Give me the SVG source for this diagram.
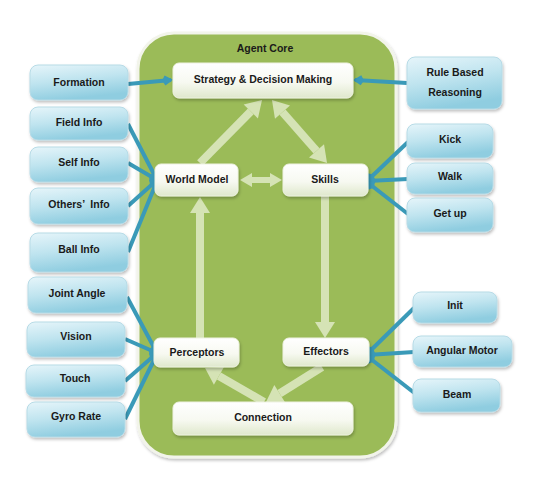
<svg xmlns="http://www.w3.org/2000/svg" width="533" height="479" viewBox="0 0 533 479">
<defs>
<linearGradient id="gBlue" x1="0" y1="0" x2="0.3" y2="1">
<stop offset="0" stop-color="#e6f5fa"/>
<stop offset="0.5" stop-color="#bfe4ef"/>
<stop offset="1" stop-color="#8fcde0"/>
</linearGradient>
<linearGradient id="gWhite" x1="0" y1="0" x2="0" y2="1">
<stop offset="0" stop-color="#ffffff"/>
<stop offset="0.55" stop-color="#f7f9f1"/>
<stop offset="1" stop-color="#dfe8cc"/>
</linearGradient>
<marker id="gh" markerUnits="userSpaceOnUse" markerWidth="24" markerHeight="24" viewBox="-2 -12 22 24" refX="0" refY="0" orient="auto-start-reverse">
<path d="M0,-10 L16,0 L0,10 z" fill="#d5e3b5"/>
</marker>
<marker id="ghs" markerUnits="userSpaceOnUse" markerWidth="18" markerHeight="18" viewBox="-2 -9 16 18" refX="0" refY="0" orient="auto-start-reverse">
<path d="M0,-7 L12,0 L0,7 z" fill="#d5e3b5"/>
</marker>
<marker id="bh" markerUnits="userSpaceOnUse" markerWidth="14" markerHeight="14" viewBox="-4 -7 14 14" refX="6" refY="0" orient="auto">
<path d="M-3,0 L0,-5 L8,0 L0,5 z" fill="#3a9ab8"/>
</marker>
<filter id="sh" x="-20%" y="-20%" width="140%" height="150%">
<feDropShadow dx="1" dy="2" stdDeviation="1.5" flood-color="#000" flood-opacity="0.25"/>
</filter>
</defs>
<style>
.bb{fill:url(#gBlue);stroke:#b7dbe6;stroke-width:1;filter:url(#sh)}
.wb{fill:url(#gWhite);stroke:#eef2e2;stroke-width:1;filter:url(#sh)}
text{font-family:"Liberation Sans",Arial,sans-serif;font-weight:bold;font-size:10.5px;fill:#1a1a1a;text-anchor:middle;dominant-baseline:middle;white-space:pre}
.ga{stroke:#d5e3b5;stroke-width:8;fill:none;marker-end:url(#gh)}
.bl{stroke:#3a9ab8;stroke-width:4;fill:none;marker-end:url(#bh)}
</style>
<rect width="533" height="479" fill="#ffffff"/>
<g id="agent-core">
<rect x="138" y="33" width="258" height="424" rx="36" fill="#9bbb59" stroke="#f2f4ea" stroke-width="3" filter="url(#sh)"/>
<text x="265" y="49">Agent Core</text>
</g>
<g id="connectors">
<line class="ga" x1="200" y1="163" x2="250.8" y2="111.4"/>
<line class="ga" x1="282.5" y1="112.1" x2="316.5" y2="150.9" marker-start="url(#gh)"/>
<line x1="252" y1="180" x2="270" y2="180" stroke="#d5e3b5" stroke-width="6" marker-start="url(#ghs)" marker-end="url(#ghs)"/>
<line class="ga" x1="200" y1="338" x2="200" y2="213"/>
<line class="ga" x1="325" y1="195" x2="325" y2="322"/>
<line class="ga" x1="322" y1="367" x2="279.6" y2="393.5"/>
<line class="ga" x1="264" y1="402" x2="218.9" y2="376"/>
<line class="bl" x1="128" y1="84" x2="171" y2="80"/>
<line class="bl" x1="407" y1="83" x2="355" y2="80"/>
<line class="bl" x1="128" y1="124" x2="157" y2="180"/>
<line class="bl" x1="128" y1="163" x2="157" y2="180"/>
<line class="bl" x1="128" y1="206" x2="157" y2="180"/>
<line class="bl" x1="128" y1="252" x2="157" y2="181"/>
<line class="bl" x1="127" y1="297" x2="157" y2="353"/>
<line class="bl" x1="125" y1="339" x2="157" y2="353"/>
<line class="bl" x1="125" y1="381" x2="157" y2="353"/>
<line class="bl" x1="125" y1="419" x2="157" y2="354"/>
<line class="bl" x1="408" y1="142" x2="367" y2="181"/>
<line class="bl" x1="408" y1="179" x2="367" y2="181"/>
<line class="bl" x1="408" y1="214" x2="367" y2="182"/>
<line class="bl" x1="414" y1="308" x2="367" y2="354"/>
<line class="bl" x1="414" y1="352" x2="367" y2="355"/>
<line class="bl" x1="417" y1="395" x2="367" y2="356"/>
</g>
<g id="strategy"><rect class="wb" x="173" y="63" width="180" height="35" rx="6"/><text x="263" y="80">Strategy &amp; Decision Making</text></g>
<g id="world-model"><rect class="wb" x="155" y="164" width="83" height="32" rx="6"/><text x="197" y="180">World Model</text></g>
<g id="skills"><rect class="wb" x="283" y="164" width="85" height="32" rx="6"/><text x="325" y="180">Skills</text></g>
<g id="perceptors"><rect class="wb" x="154" y="338" width="85" height="29" rx="6"/><text x="197" y="353">Perceptors</text></g>
<g id="effectors"><rect class="wb" x="283" y="338" width="86" height="28" rx="6"/><text x="326" y="352">Effectors</text></g>
<g id="connection"><rect class="wb" x="173" y="402" width="180" height="33" rx="6"/><text x="263" y="418">Connection</text></g>
<g id="formation"><rect class="bb" x="30" y="65" width="98" height="35" rx="8"/><text x="79" y="83">Formation</text></g>
<g id="field-info"><rect class="bb" x="30" y="107" width="98" height="33" rx="8"/><text x="79" y="123">Field Info</text></g>
<g id="self-info"><rect class="bb" x="30" y="147" width="98" height="35" rx="8"/><text x="79" y="163">Self Info</text></g>
<g id="others-info"><rect class="bb" x="30" y="188" width="98" height="36" rx="8"/><text x="79" y="205">Others’  Info</text></g>
<g id="ball-info"><rect class="bb" x="30" y="233" width="98" height="39" rx="8"/><text x="79" y="250">Ball Info</text></g>
<g id="joint-angle"><rect class="bb" x="28" y="277" width="99" height="36" rx="8"/><text x="77" y="294">Joint Angle</text></g>
<g id="vision"><rect class="bb" x="27" y="322" width="98" height="35" rx="8"/><text x="76" y="337">Vision</text></g>
<g id="touch"><rect class="bb" x="26" y="365" width="99" height="32" rx="8"/><text x="75" y="379">Touch</text></g>
<g id="gyro-rate"><rect class="bb" x="27" y="402" width="98" height="35" rx="8"/><text x="76" y="417">Gyro Rate</text></g>
<g id="rule-based"><rect class="bb" x="407" y="57" width="95" height="52" rx="8"/><text x="455" y="73">Rule Based</text><text x="455" y="93">Reasoning</text></g>
<g id="kick"><rect class="bb" x="407" y="124" width="86" height="34" rx="8"/><text x="450" y="140">Kick</text></g>
<g id="walk"><rect class="bb" x="407" y="163" width="86" height="31" rx="8"/><text x="450" y="177">Walk</text></g>
<g id="get-up"><rect class="bb" x="407" y="198" width="86" height="34" rx="8"/><text x="450" y="214">Get up</text></g>
<g id="init"><rect class="bb" x="413" y="292" width="84" height="31" rx="8"/><text x="455" y="306">Init</text></g>
<g id="angular-motor"><rect class="bb" x="413" y="336" width="99" height="31" rx="8"/><text x="462" y="351">Angular Motor</text></g>
<g id="beam"><rect class="bb" x="413" y="379" width="87" height="33" rx="8"/><text x="457" y="395">Beam</text></g>
</svg>
